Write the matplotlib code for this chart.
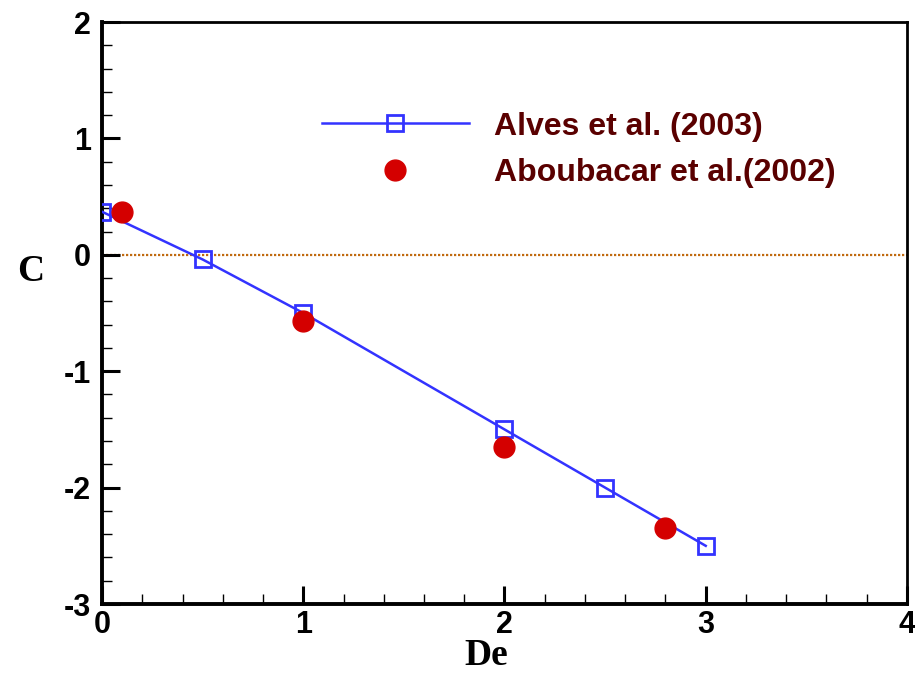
import numpy as np
import matplotlib.pyplot as plt
from matplotlib.ticker import MultipleLocator

# Alves et al. (2003)
de_alves = [0.0, 0.5, 1.0, 2.0, 2.5, 3.0]
c_alves = [0.37, -0.04, -0.50, -1.50, -2.00, -2.50]

# Aboubacar et al. (2002)
de_abou = [0.1, 1.0, 2.0, 2.8]
c_abou = [0.37, -0.57, -1.65, -2.35]

plt.rcParams['font.family'] = ['Liberation Sans', 'DejaVu Sans']
plt.rcParams['axes.unicode_minus'] = False

fig = plt.figure(figsize=(9.15, 6.77), dpi=100)
ax = fig.add_axes([0.1115, 0.1078, 0.8797, 0.8597])

ax.axhline(0, color='#c06a10', lw=1.6, ls=(0, (1, 0.8)), zorder=1)

ax.plot(de_alves, c_alves, color='#3333ff', lw=1.8, marker='s', ms=11,
        mfc='none', mec='#3333ff', mew=2, label='Alves et al. (2003)', zorder=3)
ax.plot(de_abou, c_abou, ls='none', marker='o', ms=15, color='#d40000',
        label='Aboubacar et al.(2002)', zorder=4)

ax.set_xlim(0, 4)
ax.set_ylim(-3, 2)
ax.xaxis.set_major_locator(MultipleLocator(1))
ax.xaxis.set_minor_locator(MultipleLocator(0.2))
ax.yaxis.set_major_locator(MultipleLocator(1))
ax.yaxis.set_minor_locator(MultipleLocator(0.2))

ax.tick_params(which='major', direction='in', length=13, width=2.2,
               labelsize=22)
ax.tick_params(axis='y', which='major', pad=8)
ax.tick_params(axis='x', which='major', pad=4)
ax.tick_params(which='minor', direction='in', length=7, width=1)
for lab in ax.get_xticklabels() + ax.get_yticklabels():
    lab.set_fontweight('bold')

ax.spines['left'].set_linewidth(2.8)
ax.spines['bottom'].set_linewidth(2.8)
ax.spines['top'].set_linewidth(2)
ax.spines['right'].set_linewidth(2)

ax.set_xlabel('De', fontfamily='Liberation Serif', fontweight='bold',
              fontsize=27, va='center', ha='center')
ax.set_ylabel('C', fontfamily='Liberation Serif', fontweight='bold',
              fontsize=27, rotation=0, va='center', ha='center')
ax.xaxis.set_label_coords(0.477, -0.088)
ax.yaxis.set_label_coords(-0.089, 0.572)

leg = ax.legend(loc='upper left', bbox_to_anchor=(0.273, 0.846), frameon=False,
                borderpad=0, borderaxespad=0,
                handlelength=4.6, handletextpad=0.8, labelspacing=0.52,
                prop={'weight': 'bold', 'size': 23})
for t in leg.get_texts():
    t.set_color('#5a0000')

fig.savefig('out.png', dpi=100)
